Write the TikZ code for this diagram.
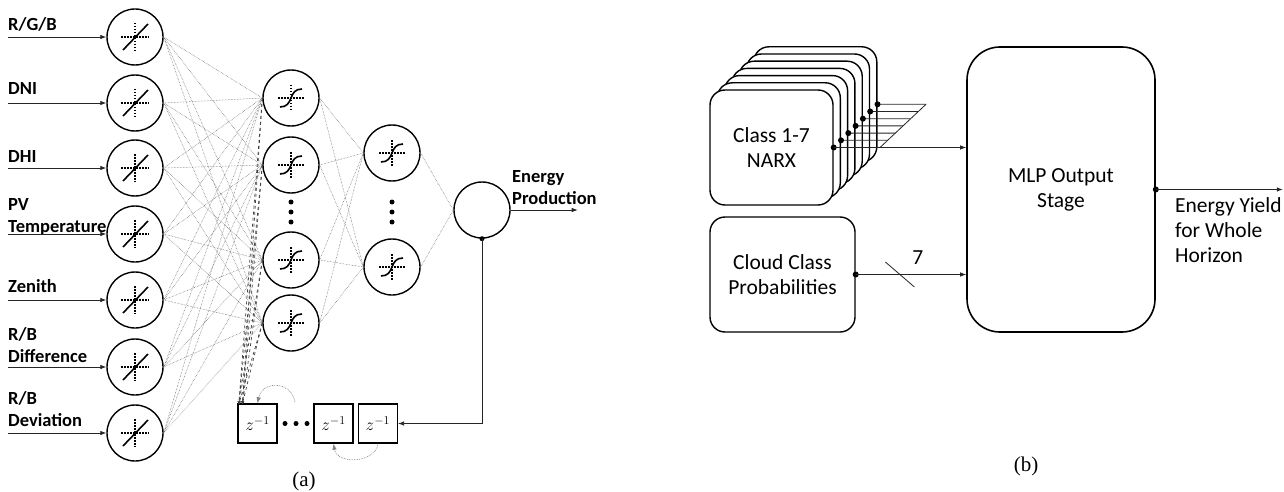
\documentclass[tikz,border=0pt]{standalone}
\usepackage{fontspec}
\setmainfont{Liberation Serif}
\newfontfamily\calibri{Carlito}
\usetikzlibrary{positioning,arrows.meta,calc}

\begin{document}
\begin{tikzpicture}[
    x=1pt, y=-1pt,
    >={Latex[length=6pt,width=4.5pt]},
    every node/.style={font=\calibri\fontsize{21.5}{25}\selectfont},
    neuron/.style={circle, draw, line width=1.4pt, minimum size=56pt, inner sep=0pt},
    inlabel/.style={font=\calibri\bfseries\fontsize{18.5}{21.5}\selectfont,
      anchor=base west, align=left, inner sep=0pt},
    delay/.style={rectangle, draw, line width=1.4pt, minimum size=39pt,
      inner sep=0pt, font=\fontsize{18}{20}\selectfont},
    block/.style={rectangle, rounded corners=15pt, draw, line width=1.4pt,
      fill=white, align=center},
    caption/.style={font=\fontsize{21}{23}\selectfont},
    synapse/.style={densely dotted, black!65, line width=0.5pt},
    recur/.style={dashed, black!75, line width=0.7pt, ->, >={Latex[length=3pt,width=3pt]}},
    delayloop/.style={densely dotted, black!50, line width=0.7pt, ->},
    glyphdot/.style={dash pattern=on 1.5pt off 1.5pt, line width=1.5pt},
    glyphline/.style={line width=1.6pt},
    wire/.style={line width=0.8pt, black!85},
  ]
  \useasboundingbox (0,0) rectangle (1284,492);

  % (a) Nodes
  \foreach \y [count=\i] in {37,103,168,234,300,367,433}
    \node[neuron] (in\i) at (135,\y) {};
  \foreach \y [count=\j] in {98,165,260,323}
    \node[neuron] (ha\j) at (291,\y) {};
  \foreach \y [count=\k] in {153,267}
    \node[neuron] (hb\k) at (392,\y) {};
  \node[neuron] (out) at (482,210) {};

  \node[delay] (z1) at (257.5,423.5) {$z^{-1}$};
  \node[delay] (z2) at (333.5,423.5) {$z^{-1}$};
  \node[delay] (z3) [right=4pt of z2] {$z^{-1}$};

  % Input labels (base = last line)
  \node[inlabel] (lab1) at (8,31)  {R/G/B};
  \node[inlabel] (lab2) at (8,95)  {DNI};
  \node[inlabel] (lab3) at (8,162) {DHI};
  \node[inlabel] (lab4) at (8,232) {PV\\Temperature};
  \node[inlabel] (lab5) at (8,292) {Zenith};
  \node[inlabel] (lab6) at (8,362) {R/B\\Difference};
  \node[inlabel] (lab7) at (8,426) {R/B\\Deviation};

  % Activation glyphs
  \foreach \i in {1,...,7} {
    \draw[glyphdot, shift={(in\i)}] (-14,0) -- (14,0) (0,-14) -- (0,14);
    \draw[glyphline, shift={(in\i)}] (-12,13) -- (13,-13);
  }
  \foreach \n in {ha1,ha2,ha3,ha4,hb1,hb2} {
    \draw[glyphdot, shift={(\n)}] (-13,0) -- (13,0) (0,-13) -- (0,13);
    \draw[glyphline, shift={(\n)}] (-11,9) .. controls (-4,9) and (-2,5) .. (0,0)
      .. controls (2,-5) and (4,-9) .. (11,-9);
  }
  \foreach \y in {202,212,222} {
    \fill (291,\y) circle (2.5);
    \fill (392,\y) circle (2.5);
  }
  \foreach \x in {285,296,307}
    \fill (\x,423.5) circle (2.5);

  % Connections
  \foreach \i in {1,...,7}
    \foreach \j in {1,...,4}
      \draw[synapse] (in\i.east) -- (ha\j.west);
  \foreach \j in {1,...,4}
    \foreach \k in {1,2}
      \draw[synapse] (ha\j.east) -- (hb\k.west);
  \foreach \k in {1,2}
    \draw[synapse] (hb\k.east) -- (out.west);
  \foreach \j in {1,...,4} {
    \draw[recur] (ha\j.west) -- ([xshift=1.5pt,yshift=-1pt]z1.north west);
    \draw[recur] (ha\j.west) -- ([xshift=5pt,yshift=-1pt]z1.north west);
  }

  % Inputs and output
  \foreach \i in {1,...,7}
    \draw[wire, ->] (in\i.west -| 8,0) -- (in\i.west);
  \draw[wire, ->] (out.east) -- ++(67,0);
  \node[inlabel] (prod) at (512,204) {Energy\\Production};

  % Feedback through the delays
  \fill (out.south) circle (2.5);
  \draw[wire, ->] (out.south) |- (z3.east);
  \coordinate (loopA) at (295,402);
  \draw[delayloop] (loopA) .. controls (291,380) and (262,381) .. (z1.north);
  \draw[delayloop] (z3.south) .. controls (376,463) and (337,465) .. (z2.south);

  \node[caption] (capa) at (304,481) {(a)};

  % (b) Nodes
  \foreach \i in {6,...,1}
    \node[block, minimum width=123pt, minimum height=115pt]
      (narx\i) at (771.5+7.3*\i, 147.5-7.2*\i) {};
  \node[block, minimum width=123pt, minimum height=115pt]
    (narx0) at (771.5,147.5) {Class 1-7\\NARX};
  \node[block, minimum width=145pt, minimum height=115pt]
    (cloud) at (782.5,274.5) {Cloud Class\\Probabilities};
  \node[block, rounded corners=33pt, line width=1.6pt,
        minimum width=188pt, minimum height=285pt]
    (mlp) at (1061,189.5) {MLP Output\\Stage};

  % NARX output bus
  \coordinate (busA) at (880,147.5);
  \coordinate (busB) at (926,104.3);
  \foreach \i in {0,...,6} {
    \draw[wire] (narx\i.east) -- ($(busA)!\i/6!(busB)$);
    \fill (narx\i.east) circle (3);
  }
  \draw[wire] (busA) -- (busB);
  \draw[wire, ->] (narx0.east) -- (mlp.west |- narx0.east);

  % Class probabilities
  \fill (cloud.east) circle (3);
  \draw[wire, ->] (cloud.east) -- (mlp.west |- cloud.east);
  \coordinate (bus7) at ($(cloud.east)!0.40!(mlp.west |- cloud.east)$);
  \draw[wire] (bus7) ++(-14.5,-12.5) -- ++(29,25);
  \node (seven) at ($(bus7)+(18,-17)$) {7};

  % Energy yield
  \fill (mlp.east) circle (3);
  \draw[wire, ->] (mlp.east) -- ++(127,0);
  \node[anchor=north west, align=left, inner sep=0pt] (yield)
    at (1175,197) {Energy Yield\\for Whole\\Horizon};

  \node[caption] (capb) at (1026,466) {(b)};
\end{tikzpicture}
\end{document}
